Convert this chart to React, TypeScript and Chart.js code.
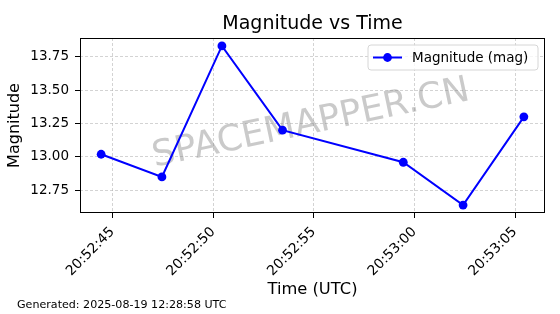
import { useEffect, useRef } from "react";
import { Chart, registerables } from "chart.js";

Chart.register(...registerables);

const times = ["20:52:44.44", "20:52:47.46", "20:52:50.44", "20:52:53.45", "20:52:59.45", "20:53:02.42", "20:53:05.44"];
const magnitudes = [13.02, 12.85, 13.83, 13.2, 12.96, 12.64, 13.3];
const xTickLabels = ["20:52:45", "20:52:50", "20:52:55", "20:53:00", "20:53:05"];
const yTickValues = [12.75, 13.0, 13.25, 13.5, 13.75];
const chartTitle = "Magnitude vs Time";
const seriesLabel = "Magnitude (mag)";
const xTitle = "Time (UTC)";
const yTitle = "Magnitude";
const footerText = "Generated: 2025-08-19 12:28:58 UTC";
const watermarkText = "SPACEMAPPER.CN";

const FONT = "'DejaVu Sans', Verdana, sans-serif";
const BLUE = "#0000ff";

const toSec = (s: string) => {
  const [h, m, sec] = s.split(":");
  return Number(h) * 3600 + Number(m) * 60 + parseFloat(sec);
};
const p2 = (n: number) => String(n).padStart(2, "0");
const fmtTime = (v: number) => {
  const t = Math.round(v);
  return `${p2(Math.floor(t / 3600))}:${p2(Math.floor((t % 3600) / 60))}:${p2(t % 60)}`;
};

const xs = times.map(toSec);
const xMinD = Math.min(...xs), xMaxD = Math.max(...xs);
const yMinD = Math.min(...magnitudes), yMaxD = Math.max(...magnitudes);
const xPad = (xMaxD - xMinD) * 0.05;
const yPad = (yMaxD - yMinD) * 0.05;

const decor = {
  id: "decor",
  beforeDatasetsDraw(chart: any) {
    const { ctx, chartArea } = chart;
    ctx.save();
    ctx.beginPath();
    ctx.rect(chartArea.left, chartArea.top, chartArea.right - chartArea.left, chartArea.bottom - chartArea.top);
    ctx.clip();
    ctx.translate(311, 124);
    ctx.rotate((-12 * Math.PI) / 180);
    ctx.font = `36px ${FONT}`;
    ctx.fillStyle = "rgba(128,128,128,0.42)";
    ctx.textAlign = "center";
    ctx.textBaseline = "middle";
    ctx.fillText(watermarkText, 0, 0);
    ctx.restore();
  },
  afterDatasetsDraw(chart: any) {
    const { ctx, chartArea } = chart;
    ctx.save();
    // frame
    ctx.strokeStyle = "#000";
    ctx.lineWidth = 1;
    ctx.strokeRect(
      Math.round(chartArea.left) + 0.5,
      Math.round(chartArea.top) + 0.5,
      Math.round(chartArea.right - chartArea.left) - 1,
      Math.round(chartArea.bottom - chartArea.top) - 1
    );
    // legend
    const bw = 170, bh = 25;
    const bx = chartArea.right - 7 - bw;
    const by = chartArea.top + 7;
    const r = 3;
    ctx.beginPath();
    ctx.moveTo(bx + r, by);
    ctx.lineTo(bx + bw - r, by);
    ctx.quadraticCurveTo(bx + bw, by, bx + bw, by + r);
    ctx.lineTo(bx + bw, by + bh - r);
    ctx.quadraticCurveTo(bx + bw, by + bh, bx + bw - r, by + bh);
    ctx.lineTo(bx + r, by + bh);
    ctx.quadraticCurveTo(bx, by + bh, bx, by + bh - r);
    ctx.lineTo(bx, by + r);
    ctx.quadraticCurveTo(bx, by, bx + r, by);
    ctx.closePath();
    ctx.fillStyle = "rgba(255,255,255,0.8)";
    ctx.fill();
    ctx.strokeStyle = "#d6d6d6";
    ctx.lineWidth = 1;
    ctx.stroke();
    const ly = by + bh / 2;
    ctx.strokeStyle = BLUE;
    ctx.lineWidth = 2;
    ctx.beginPath();
    ctx.moveTo(bx + 5, ly);
    ctx.lineTo(bx + 34, ly);
    ctx.stroke();
    ctx.fillStyle = BLUE;
    ctx.beginPath();
    ctx.arc(bx + 19.5, ly, 4.4, 0, Math.PI * 2);
    ctx.fill();
    ctx.fillStyle = "#000";
    ctx.font = `13.5px ${FONT}`;
    ctx.textAlign = "left";
    ctx.textBaseline = "middle";
    ctx.fillText(seriesLabel, bx + 44, ly + 0.5);
    ctx.restore();
  },
  afterDraw(chart: any) {
    const { ctx, chartArea } = chart;
    ctx.save();
    ctx.fillStyle = "#000";
    ctx.textBaseline = "middle";
    ctx.textAlign = "center";
    ctx.font = `19px ${FONT}`;
    ctx.fillText(chartTitle, (chartArea.left + chartArea.right) / 2, 24.5);
    ctx.textAlign = "left";
    ctx.font = `11.1px ${FONT}`;
    ctx.fillText(footerText, 17, 305);
    ctx.restore();
  },
};

export default function App() {
  const ref = useRef<HTMLCanvasElement>(null);
  useEffect(() => {
    if (!ref.current) return;
    const chart = new Chart(ref.current, {
      type: "line",
      data: {
        datasets: [
          {
            label: seriesLabel,
            data: xs.map((x, i) => ({ x, y: magnitudes[i] })),
            borderColor: BLUE,
            backgroundColor: BLUE,
            borderWidth: 2,
            pointRadius: 4.4,
            pointHoverRadius: 4.4,
            pointBackgroundColor: BLUE,
            pointBorderWidth: 0,
            tension: 0,
            fill: false,
          },
        ],
      },
      options: {
        responsive: false,
        animation: false,
        events: [],
        layout: { padding: { top: 38, right: 15, left: 0, bottom: 0 } },
        plugins: { legend: { display: false }, title: { display: false }, tooltip: { enabled: false } },
        scales: {
          x: {
            type: "linear",
            min: xMinD - xPad,
            max: xMaxD + xPad,
            afterBuildTicks: (axis: any) => {
              axis.ticks = xTickLabels.map((l) => ({ value: toSec(l) }));
            },
            afterFit: (axis: any) => {
              axis.height = 101;
            },
            ticks: {
              minRotation: 45,
              maxRotation: 45,
              autoSkip: false,
              padding: 6,
              color: "#000",
              font: { family: FONT, size: 13.8 },
              callback: (v: any) => fmtTime(Number(v)),
            },
            grid: {
              color: "rgba(176,176,176,0.7)",
              lineWidth: 0.8,
              tickColor: "#000",
              tickLength: 5,
              tickWidth: 1,
            },
            border: { display: false, dash: [3, 2] },
            title: {
              display: true,
              text: xTitle,
              color: "#000",
              font: { family: FONT, size: 16.3 },
              padding: { top: 0, bottom: 14.5 },
            },
          },
          y: {
            type: "linear",
            min: yMinD - yPad,
            max: yMaxD + yPad,
            afterBuildTicks: (axis: any) => {
              axis.ticks = yTickValues.map((v) => ({ value: v }));
            },
            afterFit: (axis: any) => {
              axis.width = 80;
            },
            ticks: {
              padding: 6,
              color: "#000",
              font: { family: FONT, size: 13.5 },
              callback: (v: any) => Number(v).toFixed(2),
            },
            grid: {
              color: "rgba(176,176,176,0.7)",
              lineWidth: 0.8,
              tickColor: "#000",
              tickLength: 5,
              tickWidth: 1,
            },
            border: { display: false, dash: [3, 2] },
            title: {
              display: true,
              text: yTitle,
              color: "#000",
              font: { family: FONT, size: 16 },
              padding: { top: 5, bottom: 0 },
            },
          },
        },
      },
      plugins: [decor],
    });
    return () => chart.destroy();
  }, []);
  return (
    <div style={{ position: "absolute", left: 0, top: 0, width: 560, height: 314, background: "#fff" }}>
      <canvas ref={ref} width={560} height={314} style={{ display: "block" }} />
    </div>
  );
}
